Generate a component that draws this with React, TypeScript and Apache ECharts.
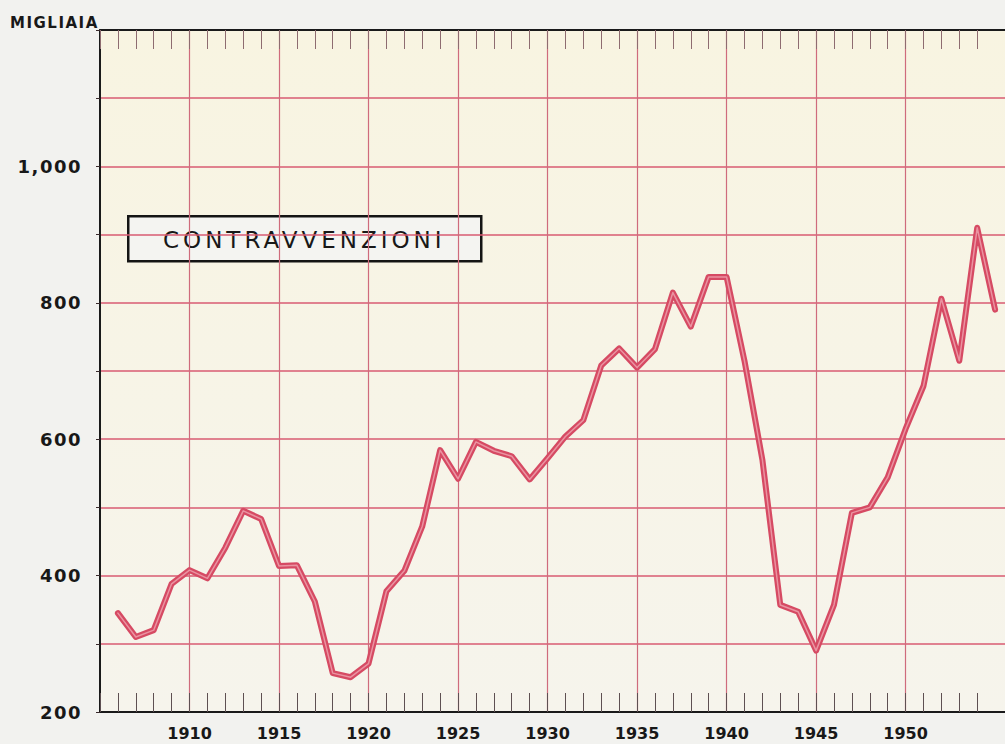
import React, { useEffect, useRef } from "react";
import * as echarts from "echarts";

// Years shown on the category axis (frame runs from 1905 to beyond 1955)
const axisYears: string[] = [
  "1905", "1906", "1907", "1908", "1909", "1910", "1911", "1912", "1913", "1914",
  "1915", "1916", "1917", "1918", "1919", "1920", "1921", "1922", "1923", "1924",
  "1925", "1926", "1927", "1928", "1929", "1930", "1931", "1932", "1933", "1934",
  "1935", "1936", "1937", "1938", "1939", "1940", "1941", "1942", "1943", "1944",
  "1945", "1946", "1947", "1948", "1949", "1950", "1951", "1952", "1953", "1954",
  "1955", "1956",
];

// Data years and values (thousands)
const dataYears: number[] = [
  1906, 1907, 1908, 1909, 1910, 1911, 1912, 1913, 1914, 1915,
  1916, 1917, 1918, 1919, 1920, 1921, 1922, 1923, 1924, 1925,
  1926, 1927, 1928, 1929, 1930, 1931, 1932, 1933, 1934, 1935,
  1936, 1937, 1938, 1939, 1940, 1941, 1942, 1943, 1944, 1945,
  1946, 1947, 1948, 1949, 1950, 1951, 1952, 1953, 1954, 1955,
];
const contravvenzioni: number[] = [
  345, 310, 320, 388, 408, 396, 441, 495, 483, 414,
  415, 362, 257, 251, 271, 377, 407, 472, 584, 542,
  596, 583, 575, 541, 572, 604, 628, 708, 733, 705,
  732, 815, 765, 838, 838, 715, 570, 357, 347, 290,
  357, 492, 500, 544, 615, 678, 806, 715, 910, 790,
];

const xLabelYears: number[] = [1910, 1915, 1920, 1925, 1930, 1935, 1940, 1945, 1950];
const gridYears: number[] = [1910, 1915, 1920, 1925, 1930, 1935, 1940, 1945, 1950];
const yLabelValues: number[] = [200, 400, 600, 800, 1000];
const yLabelTexts: string[] = ["200", "400", "600", "800", "1,000"];

const unitLabel = "MIGLIAIA";
const seriesTitle = "CONTRAVVENZIONI";

export default function App() {
  const ref = useRef<HTMLDivElement>(null);

  useEffect(() => {
    if (!ref.current) return;
    const chart = echarts.init(ref.current, undefined, { renderer: "svg" });

    const seriesData = axisYears.map((y) => {
      const i = dataYears.indexOf(Number(y));
      return i >= 0 ? contravvenzioni[i] : null;
    });

    const labelFont = "DejaVu Sans";

    const option: any = {
      animation: false,
      backgroundColor: "#f2f2ef",
      grid: {
        left: 100,
        top: 30,
        width: 913,
        height: 682,
        show: true,
        borderWidth: 0,
        backgroundColor: new echarts.graphic.LinearGradient(0, 0, 0, 1, [
          { offset: 0, color: "#f8f4e1" },
          { offset: 1, color: "#f6f4ec" },
        ]),
      },
      xAxis: [
        {
          type: "category",
          data: axisYears,
          boundaryGap: false,
          position: "bottom",
          axisLine: { show: true, lineStyle: { color: "#1a1a1a", width: 2 } },
          axisTick: {
            show: true,
            inside: true,
            length: 19,
            interval: (_i: number, v: string) => Number(v) <= 1954,
            lineStyle: { color: "#5e5052", width: 1 },
          },
          axisLabel: {
            show: true,
            interval: (_i: number, v: string) => xLabelYears.includes(Number(v)),
            margin: 13,
            color: "#181818",
            fontFamily: labelFont,
            fontWeight: "bold",
            fontSize: 16,
          },
          splitLine: {
            show: true,
            interval: (_i: number, v: string) => gridYears.includes(Number(v)),
            lineStyle: { color: "#cf6b7c", width: 1.2 },
          },
        },
        {
          type: "category",
          data: axisYears,
          boundaryGap: false,
          position: "top",
          axisLine: { show: true, lineStyle: { color: "#1a1a1a", width: 2 } },
          axisTick: {
            show: true,
            inside: true,
            length: 19,
            interval: (_i: number, v: string) => Number(v) <= 1954,
            lineStyle: { color: "#8e6c70", width: 1 },
          },
          axisLabel: { show: false },
          splitLine: { show: false },
        },
      ],
      yAxis: {
        type: "value",
        min: 200,
        max: 1200,
        interval: 100,
        axisLine: { show: true, onZero: false, lineStyle: { color: "#1a1a1a", width: 2 } },
        axisTick: { show: true, length: 4, lineStyle: { color: "#3a2a2c", width: 1 } },
        axisLabel: {
          margin: 18,
          color: "#181818",
          fontFamily: labelFont,
          fontWeight: "bold",
          fontSize: 18,
          formatter: (v: number) => {
            const i = yLabelValues.indexOf(v);
            return i >= 0 ? yLabelTexts[i] : "";
          },
        },
        splitLine: { show: true, lineStyle: { color: "#d95b72", width: 1.6 } },
      },
      series: [
        {
          type: "line",
          data: seriesData,
          xAxisIndex: 0,
          symbol: "none",
          lineStyle: { color: "#d64a63", width: 6, join: "round", cap: "round" },
          z: 3,
        },
        {
          type: "line",
          data: seriesData,
          xAxisIndex: 0,
          symbol: "none",
          lineStyle: { color: "#ea93a1", width: 1.5, join: "round", cap: "round" },
          z: 4,
        },
      ],
      graphic: [
        {
          type: "text",
          left: 10,
          top: 15,
          style: {
            text: unitLabel,
            fill: "#181818",
            fontFamily: labelFont,
            fontWeight: "bold",
            fontSize: 15,
          },
          z: 10,
        },
        {
          type: "group",
          left: 127,
          top: 215,
          z: 10,
          children: [
            {
              type: "rect",
              shape: { x: 0, y: 0, width: 353, height: 45 },
              style: { fill: "#f4f4f1", stroke: "#141414", lineWidth: 2.5 },
            },
            {
              type: "text",
              x: 176,
              y: 23.5,
              style: {
                text: seriesTitle,
                fill: "#181818",
                fontFamily: labelFont,
                fontWeight: 500,
                fontSize: 23,
                align: "center",
                verticalAlign: "middle",
                textAlign: "center",
                textVerticalAlign: "middle",
              },
            },
          ],
        },
      ],
    };

    chart.setOption(option);
    return () => chart.dispose();
  }, []);

  return (
    <>
      <style>{`
        #cv text[style*="18px"] { letter-spacing: 1.5px; }
        #cv text[style*="15px"] { letter-spacing: 1.5px; }
        #cv text[style*="23px"] { letter-spacing: 4px; }
      `}</style>
      <div
        style={{ position: "fixed", left: 0, top: 0, width: 1005, height: 744, overflow: "hidden" }}
      >
        <div id="cv" ref={ref} style={{ width: 1030, height: 744 }} />
      </div>
    </>
  );
}
